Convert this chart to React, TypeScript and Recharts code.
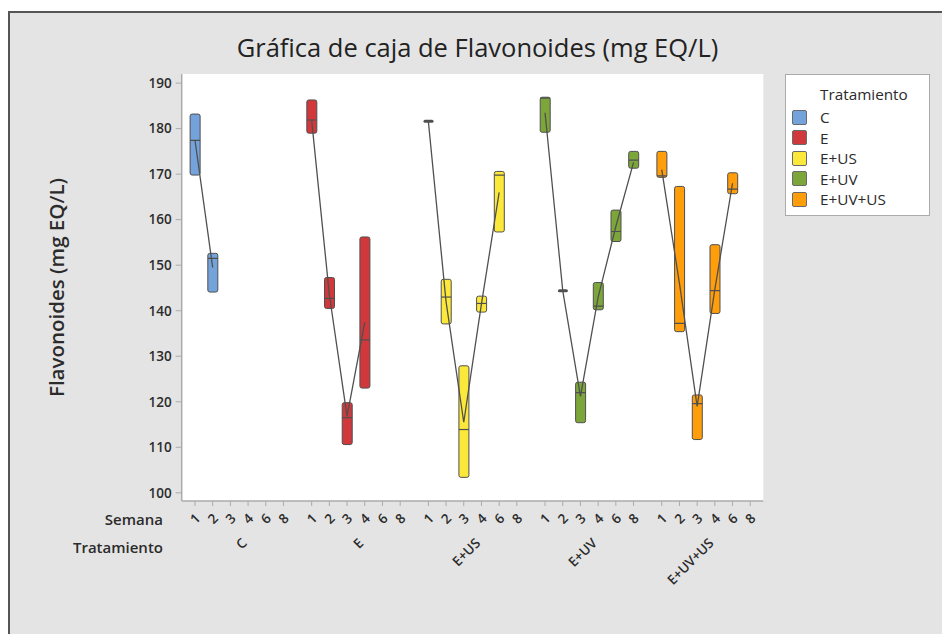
import React from 'react';
import { ComposedChart, Bar, Line, XAxis, YAxis, Legend, Label, CartesianGrid } from 'recharts';

// ---- data ----
const treatments = ['C', 'E', 'E+US', 'E+UV', 'E+UV+US'];
const weeks = ['1', '2', '3', '4', '6', '8'];
const colors = ['#74A3DC', '#D1383B', '#FCE83A', '#7CA53A', '#FF9D0A'];
const yTicks = [100, 110, 120, 130, 140, 150, 160, 170, 180, 190];

// first quartile (box bottom), per treatment, per week
const q1Values: (number | null)[][] = [
  [169.8, 144.1, null, null, null, null],
  [179.0, 140.5, 110.6, 123.0, null, null],
  [181.6, 137.1, 103.4, 139.7, 157.3, null],
  [179.2, 144.4, 115.4, 140.2, 155.2, 171.3],
  [169.3, 135.4, 111.7, 139.4, 165.7, null],
];
// third quartile (box top)
const q3Values: (number | null)[][] = [
  [183.2, 152.6, null, null, null, null],
  [186.3, 147.3, 119.8, 156.2, null, null],
  [181.6, 146.9, 127.9, 143.2, 170.6, null],
  [186.9, 144.4, 124.3, 146.2, 162.1, 175.0],
  [175.0, 167.3, 121.5, 154.5, 170.3, null],
];
const medianValues: (number | null)[][] = [
  [177.4, 151.5, null, null, null, null],
  [181.9, 142.7, 116.5, 133.6, null, null],
  [181.6, 143.0, 113.9, 141.6, 169.8, null],
  [186.7, 144.4, 122.0, 141.0, 157.4, 173.1],
  [169.6, 137.2, 119.6, 144.4, 166.7, null],
];
const meanValues: (number | null)[][] = [
  [177.5, 149.5, null, null, null, null],
  [181.8, 143.5, 116.8, 137.5, null, null],
  [181.6, 142.0, 115.5, 141.5, 166.0, null],
  [183.5, 144.4, 121.2, 143.0, 158.5, 172.6],
  [171.0, 146.0, 119.0, 144.7, 168.0, null],
];

// ---- layout of the nested categorical axis ----
const GROUP_STEP = 6.593;
const slotOf = (g: number, w: number) => g * GROUP_STEP + w;
const X_DOMAIN: [number, number] = [-0.75, 32.11];
const Y_DOMAIN: [number, number] = [98.2, 192.0];

const weekTicks = treatments.flatMap((_, g) => weeks.map((_, w) => slotOf(g, w)));
const weekTickLabels = treatments.flatMap(() => weeks);
const groupTicks = treatments.map((_, g) => slotOf(g, (weeks.length - 1) / 2));

const rows: any[] = [];
treatments.forEach((t, g) => {
  weeks.forEach((wk, w) => {
    const lo = q1Values[g][w];
    const hi = q3Values[g][w];
    if (lo == null || hi == null) return;
    rows.push({
      x: slotOf(g, w),
      g,
      week: wk,
      range: [lo, hi],
      median: medianValues[g][w],
      mean: meanValues[g][w],
    });
  });
});

const FONT = '"Open Sans", "Noto Sans", sans-serif';
const TEXT = '#2b2b2b';
const FRAME = '#ababab';
const EDGE = '#4f4f4f';

const BoxShape = (props: any) => {
  const { x, y, width, height, payload } = props;
  if (x == null || y == null) return null;
  const fill = colors[payload.g];
  const [lo, hi] = payload.range;
  if (!(height > 0.5) || hi - lo < 1e-6) {
    return <rect x={x} y={y - 1.5} width={width} height={3} rx={1.5} fill={EDGE} />;
  }
  const my = y + (height * (hi - payload.median)) / (hi - lo);
  return (
    <g>
      <rect x={x} y={y} width={width} height={height} rx={2} ry={2} fill={fill} stroke={EDGE} strokeWidth={1} />
      <line x1={x} x2={x + width} y1={my} y2={my} stroke={EDGE} strokeWidth={1.2} />
    </g>
  );
};

const WeekTick = (props: any) => {
  const { x, y, payload } = props;
  const idx = weekTicks.findIndex((v) => Math.abs(v - payload.value) < 1e-6);
  const label = idx >= 0 ? weekTickLabels[idx] : '';
  const cy = y + 12.5;
  return (
    <text
      x={x}
      y={cy}
      transform={`rotate(-45 ${x} ${cy})`}
      textAnchor="middle"
      dominantBaseline="central"
      fontFamily={FONT}
      fontSize={13.5}
      fontWeight={600}
      fill={TEXT}
    >
      {label}
    </text>
  );
};

const GroupTick = (props: any) => {
  const { x, y, payload } = props;
  const idx = groupTicks.findIndex((v) => Math.abs(v - payload.value) < 1e-6);
  const label = idx >= 0 ? treatments[idx] : '';
  const ax = x + 5;
  const ay = y + 1.5;
  return (
    <text
      x={ax}
      y={ay}
      transform={`rotate(-45 ${ax} ${ay})`}
      textAnchor="end"
      dominantBaseline="central"
      fontFamily={FONT}
      fontSize={13.5}
      fontWeight={600}
      fill={TEXT}
    >
      {label}
    </text>
  );
};

const LegendBox = () => (
  <div
    style={{
      width: 145,
      height: 142,
      boxSizing: 'border-box',
      background: '#ffffff',
      border: `1.5px solid ${FRAME}`,
      fontFamily: FONT,
      color: TEXT,
      fontSize: 15.3,
      position: 'relative',
    }}
  >
    <div style={{ position: 'absolute', left: 34, top: 9, fontWeight: 500, lineHeight: '20px' }}>Tratamiento</div>
    {treatments.map((t, i) => (
      <div key={t} style={{ position: 'absolute', left: 6, top: 32 + i * 20.5, height: 20, display: 'flex', alignItems: 'center' }}>
        <span
          style={{
            display: 'inline-block',
            width: 15,
            height: 15,
            boxSizing: 'border-box',
            background: colors[i],
            border: '1px solid #6a6a6a',
            borderRadius: 2,
          }}
        />
        <span style={{ marginLeft: 13, fontWeight: 500 }}>{t}</span>
      </div>
    ))}
  </div>
);

export default function App() {
  return (
    <div style={{ position: 'absolute', left: 0, top: 0, width: 942, height: 634, overflow: 'hidden', background: '#ffffff' }}>
      <div
        style={{
          position: 'absolute',
          left: 8,
          top: 11,
          width: 1000,
          height: 700,
          background: '#e4e4e4',
          borderLeft: '2px solid #555555',
          borderTop: '2px solid #555555',
        }}
      />
      <div
        style={{
          position: 'absolute',
          left: 0,
          width: 955,
          top: 30,
          textAlign: 'center',
          fontFamily: FONT,
          fontSize: 25.5,
          fontWeight: 500,
          color: '#222',
          lineHeight: '34px',
        }}
      >
        Gráfica de caja de Flavonoides (mg EQ/L)
      </div>
      <div style={{ position: 'absolute', left: 0, top: 0 }}>
        <ComposedChart
          width={942}
          height={634}
          data={rows}
          margin={{ top: 74, right: 178.7, bottom: 77, left: 120 }}
        >
          <CartesianGrid xAxisId="a_week" yAxisId="left" fill="#ffffff" horizontal={false} vertical={false} />
          <XAxis
            xAxisId="top"
            orientation="top"
            type="number"
            dataKey="x"
            domain={X_DOMAIN}
            allowDataOverflow
            height={0}
            tick={false}
            tickLine={false}
            axisLine={{ stroke: FRAME, strokeWidth: 1.5 }}
          />
          <XAxis
            xAxisId="b_grp"
            type="number"
            dataKey="x"
            domain={X_DOMAIN}
            allowDataOverflow
            ticks={groupTicks}
            interval={0}
            height={18}
            tickSize={0}
            tickMargin={0}
            tick={<GroupTick />}
            tickLine={false}
            axisLine={false}
          >
            <Label value="Tratamiento" position="left" offset={18.7} fontFamily={FONT} fontSize={15} fontWeight={600} fill={TEXT} />
          </XAxis>
          <XAxis
            xAxisId="a_week"
            type="number"
            dataKey="x"
            domain={X_DOMAIN}
            allowDataOverflow
            ticks={weekTicks}
            interval={0}
            height={38}
            tickSize={5}
            tickMargin={0}
            tick={<WeekTick />}
            tickLine={{ stroke: FRAME }}
            axisLine={{ stroke: FRAME, strokeWidth: 1.5 }}
          >
            <Label value="Semana" position="left" offset={18.7} fontFamily={FONT} fontSize={15} fontWeight={600} fill={TEXT} />
          </XAxis>
          <YAxis
            yAxisId="left"
            type="number"
            domain={Y_DOMAIN}
            allowDataOverflow
            ticks={yTicks}
            width={61.7}
            tickSize={6}
            tickMargin={4}
            tickLine={{ stroke: FRAME }}
            axisLine={{ stroke: FRAME, strokeWidth: 1.5 }}
            tick={{ fontFamily: FONT, fontSize: 13.5, fontWeight: 600, fill: TEXT }}
          >
            <Label
              content={(p: any) => {
                const vb = p.viewBox || {};
                const cx = vb.x - 64;
                const cy = vb.y + vb.height / 2;
                return (
                  <text
                    x={cx}
                    y={cy}
                    transform={`rotate(-90 ${cx} ${cy})`}
                    textAnchor="middle"
                    dominantBaseline="central"
                    fontFamily={FONT}
                    fontSize={20.5}
                    fontWeight={600}
                    fill={TEXT}
                  >
                    Flavonoides (mg EQ/L)
                  </text>
                );
              }}
            />
          </YAxis>
          <YAxis
            yAxisId="right"
            orientation="right"
            type="number"
            domain={Y_DOMAIN}
            allowDataOverflow
            width={0}
            tick={false}
            tickLine={false}
            axisLine={{ stroke: FRAME, strokeWidth: 1.5 }}
          />
          <Bar
            xAxisId="a_week"
            yAxisId="left"
            dataKey="range"
            barSize={10}
            shape={<BoxShape />}
            isAnimationActive={false}
          />
          {treatments.map((t, g) => (
            <Line
              key={t}
              xAxisId="a_week"
              yAxisId="left"
              type="linear"
              dataKey={(d: any) => (d.g === g ? d.mean : null)}
              stroke="#505050"
              strokeWidth={1.3}
              dot={false}
              activeDot={false}
              connectNulls={false}
              isAnimationActive={false}
            />
          ))}
          <Legend
            layout="horizontal"
            verticalAlign="middle"
            align="center"
            wrapperStyle={{ left: 785, top: 74, width: 145, height: 142 }}
            content={() => <LegendBox />}
          />
        </ComposedChart>
      </div>
    </div>
  );
}
